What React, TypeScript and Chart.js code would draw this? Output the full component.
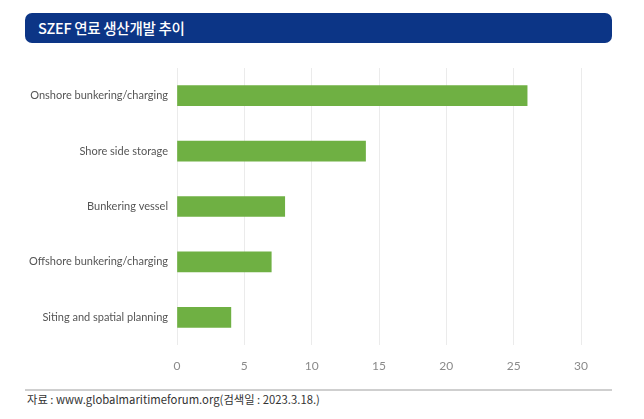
import React, { useRef, useEffect } from "react";
import { Chart, registerables } from "chart.js";

Chart.register(...registerables);

const title = "SZEF 연료 생산개발 추이";
const source = "자료 : www.globalmaritimeforum.org(검색일 : 2023.3.18.)";

const categories = [
  "Onshore bunkering/charging",
  "Shore side storage",
  "Bunkering vessel",
  "Offshore bunkering/charging",
  "Siting and spatial planning",
];
const counts = [26, 14, 8, 7, 4];
const xMin = 0;
const xMax = 30;
const xStep = 5;

const App = () => {
  const chartRef = useRef<HTMLCanvasElement>(null);
  const chartInstanceRef = useRef<Chart | null>(null);

  useEffect(() => {
    if (!chartRef.current) return;
    const context = chartRef.current.getContext("2d");
    if (!context) return;

    if (chartInstanceRef.current) {
      chartInstanceRef.current.destroy();
    }

    chartInstanceRef.current = new Chart(context, {
      type: "bar",
      data: {
        labels: categories,
        datasets: [
          {
            label: "SZEF",
            data: counts,
            backgroundColor: "#6fb043",
            borderWidth: 0,
            barThickness: 20,
          },
        ],
      },
      options: {
        indexAxis: "y",
        animation: false,
        responsive: false,
        maintainAspectRatio: false,
        layout: {
          padding: { left: 0, right: 63, top: 18, bottom: 0 },
        },
        plugins: {
          legend: { display: false },
          tooltip: { enabled: false },
        },
        scales: {
          x: {
            min: xMin,
            max: xMax,
            ticks: {
              stepSize: xStep,
              padding: 14,
              color: "#8a8a8a",
              font: { family: "Lato, Roboto, sans-serif", size: 12 },
            },
            grid: { color: "#ebebeb", drawTicks: false },
            border: { display: false },
            afterFit: (scale: any) => {
              scale.height = 35;
            },
          },
          y: {
            ticks: {
              padding: 9,
              color: "#555555",
              font: { family: "Lato, Roboto, sans-serif", size: 11 },
            },
            grid: { display: false, drawTicks: false },
            border: { display: false },
            afterFit: (scale: any) => {
              scale.width = 177;
            },
          },
        },
      },
    });

    return () => {
      if (chartInstanceRef.current) {
        chartInstanceRef.current.destroy();
        chartInstanceRef.current = null;
      }
    };
  }, []);

  return (
    <div
      style={{
        position: "fixed",
        left: 0,
        top: 0,
        width: 644,
        height: 419,
        background: "#ffffff",
        overflow: "hidden",
      }}
    >
      <div
        style={{
          position: "absolute",
          left: 25,
          top: 13,
          width: 587,
          height: 30,
          background: "#0c3586",
          borderRadius: 7,
          color: "#ffffff",
          fontFamily: "'Noto Sans CJK KR', sans-serif",
          fontWeight: 500,
          fontSize: 14.5,
          letterSpacing: -0.3,
          lineHeight: "30px",
          paddingLeft: 13,
          boxSizing: "border-box",
        }}
      >
        {title}
      </div>
      <canvas
        ref={chartRef}
        width={644}
        height={330}
        style={{ position: "absolute", left: 0, top: 50, width: 644, height: 330 }}
      ></canvas>
      <div
        style={{
          position: "absolute",
          left: 25,
          top: 389,
          width: 587,
          height: 0,
          borderTop: "2px solid #cfcfcf",
        }}
      ></div>
      <div
        style={{
          position: "absolute",
          left: 27,
          top: 391,
          color: "#333333",
          fontFamily: "'Noto Sans CJK KR', sans-serif",
          fontWeight: 400,
          fontSize: 11.3,
          letterSpacing: 0,
          lineHeight: "16px",
          whiteSpace: "nowrap",
        }}
      >
        {source}
      </div>
    </div>
  );
};

export default App;
